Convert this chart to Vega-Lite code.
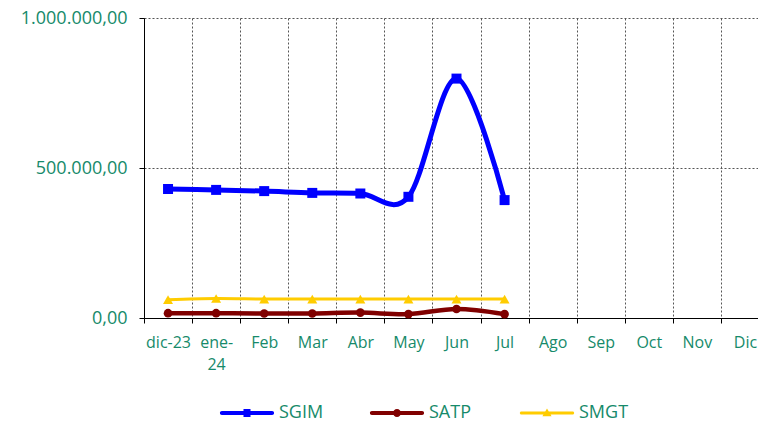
{
  "$schema": "https://vega.github.io/schema/vega-lite/v6.json",
  "width": 625,
  "height": 300,
  "autosize": "none",
  "padding": {"left": 144, "top": 18, "right": 0, "bottom": 107},
  "background": "white",
  "config": {
    "locale": {"number": {"decimal": ",", "thousands": ".", "grouping": [3], "currency": ["", ""]}},
    "view": {"stroke": null},
    "font": "Open Sans",
    "axis": {
      "labelColor": "#168a6a",
      "labelFont": "Open Sans",
      "labelFontSize": 16,
      "domainColor": "#000000",
      "tickColor": "#000000",
      "tickSize": 5,
      "gridColor": "#555555",
      "gridDash": [2, 2],
      "gridWidth": 1,
      "title": null
    }
  },
  "data": {
    "values": [
      {"mes": "dic-23", "serie": "SGIM", "valor": 430000},
      {"mes": "ene-24", "serie": "SGIM", "valor": 427000},
      {"mes": "Feb", "serie": "SGIM", "valor": 423000},
      {"mes": "Mar", "serie": "SGIM", "valor": 417000},
      {"mes": "Abr", "serie": "SGIM", "valor": 415000},
      {"mes": "May", "serie": "SGIM", "valor": 404000},
      {"mes": "Jun", "serie": "SGIM", "valor": 798000},
      {"mes": "Jul", "serie": "SGIM", "valor": 393000},
      {"mes": "dic-23", "serie": "SATP", "valor": 16000},
      {"mes": "ene-24", "serie": "SATP", "valor": 16000},
      {"mes": "Feb", "serie": "SATP", "valor": 15000},
      {"mes": "Mar", "serie": "SATP", "valor": 15000},
      {"mes": "Abr", "serie": "SATP", "valor": 18000},
      {"mes": "May", "serie": "SATP", "valor": 13000},
      {"mes": "Jun", "serie": "SATP", "valor": 30000},
      {"mes": "Jul", "serie": "SATP", "valor": 13000},
      {"mes": "dic-23", "serie": "SMGT", "valor": 61000},
      {"mes": "ene-24", "serie": "SMGT", "valor": 65000},
      {"mes": "Feb", "serie": "SMGT", "valor": 63000},
      {"mes": "Mar", "serie": "SMGT", "valor": 63000},
      {"mes": "Abr", "serie": "SMGT", "valor": 63000},
      {"mes": "May", "serie": "SMGT", "valor": 63000},
      {"mes": "Jun", "serie": "SMGT", "valor": 63000},
      {"mes": "Jul", "serie": "SMGT", "valor": 63000}
    ]
  },
  "encoding": {
    "x": {
      "field": "mes",
      "type": "nominal",
      "sort": null,
      "scale": {"domain": ["dic-23", "ene-24", "Feb", "Mar", "Abr", "May", "Jun", "Jul", "Ago", "Sep", "Oct", "Nov", "Dic"], "paddingInner": 0, "paddingOuter": 0},
      "axis": {
        "labelAngle": 0,
        "tickBand": "extent",
        "grid": true,
        "labelPadding": 11,
        "labelLineHeight": 22,
        "labelBaseline": "top",
        "labelExpr": "datum.label == 'ene-24' ? ['ene-', '24'] : datum.label"
      }
    },
    "y": {
      "field": "valor",
      "type": "quantitative",
      "scale": {"domain": [0, 1000000], "nice": false},
      "axis": {"values": [0, 500000, 1000000], "format": ",.2f", "grid": true, "labelPadding": 12, "labelFontSize": 18}
    },
    "color": {
      "field": "serie",
      "type": "nominal",
      "sort": null,
      "scale": {"domain": ["SGIM", "SATP", "SMGT"], "range": ["#0000FF", "#800000", "#FFCC00"]},
      "legend": {
        "orient": "none",
        "legendX": 76,
        "legendY": 368,
        "direction": "horizontal",
        "title": null,
        "padding": 0,
        "labelColor": "#168a6a",
        "labelFont": "Open Sans",
        "labelFontSize": 18,
        "labelOffset": 5,
        "symbolSize": 2916,
        "symbolStrokeWidth": 0,
        "columnPadding": 40,
        "gridAlign": "all",
        "encode": {
          "symbols": {
            "update": {
              "shape": {"signal": "datum.value == 'SGIM' ? 'M-0.93,-0.074H0.93A0.074,0.074 0 0,1 0.93,0.074H-0.93A0.074,0.074 0 0,1 -0.93,-0.074Z M-0.13,-0.15H0.13V0.15H-0.13Z' : datum.value == 'SATP' ? 'M-0.93,-0.074H0.93A0.074,0.074 0 0,1 0.93,0.074H-0.93A0.074,0.074 0 0,1 -0.93,-0.074Z M-0.15,0A0.15,0.15 0 1,1 0.15,0A0.15,0.15 0 1,1 -0.15,0Z' : 'M-0.95,-0.056H0.95A0.056,0.056 0 0,1 0.95,0.056H-0.95A0.056,0.056 0 0,1 -0.95,-0.056Z M0,-0.17L0.17,0.12H-0.17Z'"},
              "fill": {"signal": "scale('color', datum.value)"},
              "stroke": {"value": "transparent"},
              "strokeWidth": {"value": 0},
              "opacity": {"value": 1}
            }
          }
        }
      }
    }
  },
  "layer": [
    {
      "mark": {"type": "line", "interpolate": "cardinal"},
      "encoding": {
        "strokeWidth": {"condition": [{"test": "datum.serie == 'SGIM'", "value": 5}, {"test": "datum.serie == 'SATP'", "value": 4.5}], "value": 3}
      }
    },
    {
      "mark": {"type": "point", "filled": true, "opacity": 1},
      "encoding": {
        "shape": {"condition": [{"test": "datum.serie == 'SGIM'", "value": "square"}, {"test": "datum.serie == 'SATP'", "value": "circle"}], "value": "triangle-up"},
        "size": {"condition": [{"test": "datum.serie == 'SGIM'", "value": 100}, {"test": "datum.serie == 'SATP'", "value": 75}], "value": 100}
      }
    }
  ]
}
